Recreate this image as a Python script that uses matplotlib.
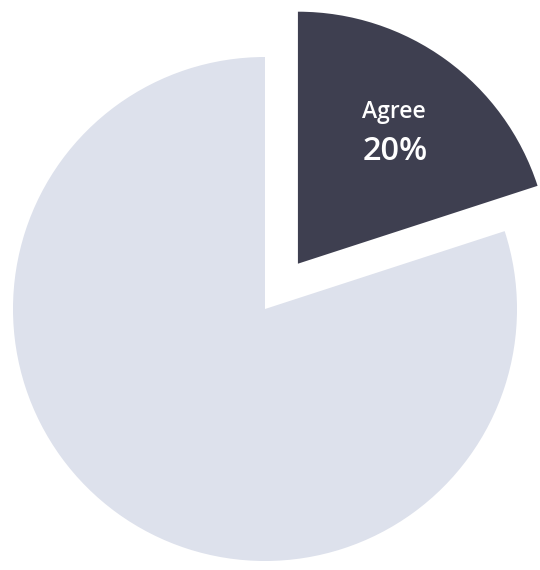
import matplotlib.pyplot as plt

# share of responses
labels = ['Agree', 'Other']
shares = [20, 80]
colors = ['#3e3f50', '#dde1ec']

fig = plt.figure(figsize=(5.4, 5.7), dpi=100)
ax = fig.add_axes([0, 0, 1, 1])

# pie explode offsets are in data units here (not scaled by radius)
wedges, _ = ax.pie(shares, colors=colors, startangle=90, counterclock=False,
                   explode=[56, 0], radius=252, center=(265, 261),
                   wedgeprops={'linewidth': 0})
ax.set_xlim(0, 540)
ax.set_ylim(0, 570)
ax.set_aspect('equal')
ax.axis('off')

ax.text(394, 458, labels[0], color='white', ha='center', va='center',
        fontsize=16.5, family='Open Sans', fontweight='semibold')
ax.text(395, 418, f'{shares[0]}%', color='white', ha='center', va='center',
        fontsize=23.5, family='Open Sans', fontweight='semibold')

fig.savefig('out.png', dpi=100)
